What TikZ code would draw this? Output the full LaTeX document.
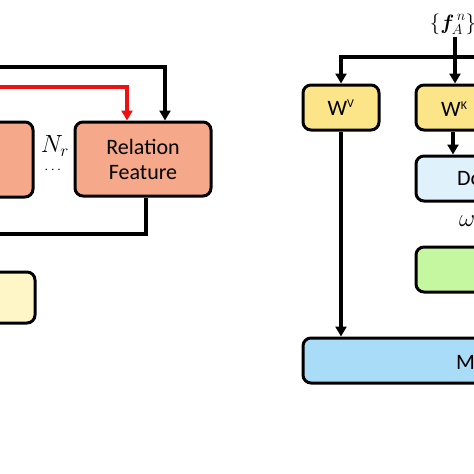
\documentclass[tikz,border=0pt]{standalone}
\usepackage{amsmath}
\usepackage{fontspec}
\setmainfont{Carlito}
\usetikzlibrary{arrows.meta,calc}
\definecolor{salmon}{HTML}{F5A98A}
\definecolor{paleyel}{HTML}{FFF6C8}
\definecolor{wyel}{HTML}{FCE588}
\definecolor{dotblue}{HTML}{DFF2FB}
\definecolor{mgreen}{HTML}{C5F7A0}
\definecolor{mblue}{HTML}{A8DCF7}
\definecolor{redline}{HTML}{EE1111}
\tikzset{
  box/.style={draw=black, line width=3pt, rounded corners=8pt, inner sep=0pt, align=center, font=\fontsize{22}{26}\selectfont},
  conn/.style={line width=3.3pt, draw=black},
  arr/.style={conn, -{Triangle[length=10pt,width=11pt]}},
  lbl/.style={inner sep=0pt, font=\fontsize{22}{26}\selectfont}
}
\begin{document}
\begin{tikzpicture}[x=1pt,y=-1pt]
\useasboundingbox (0,0) rectangle (474,474);
\fill[white] (0,0) rectangle (474,474);
\clip (0,0) rectangle (474,474);
% ---------- left part ----------
\node[box, fill=salmon, minimum width=93pt, minimum height=75pt] (LB) at (-13.5,159.5) {};
\node[box, fill=salmon, minimum width=136pt, minimum height=74pt] (RF) at (143,159) {Relation\\[-1pt]Feature};
\node[box, fill=paleyel, minimum width=95pt, minimum height=51pt] (YB) at (-12.5,297.5) {};
\node[lbl, font=\fontsize{23}{26}\selectfont] (Nr) at (55,146) {$N_r$};
\node[lbl, font=\fontsize{15}{18}\selectfont] (dots) at (54,170) {$\cdots$};
\coordinate (ltop) at (-10,67);
\coordinate (lred) at (-10,87);
\coordinate (lbot) at (-10,234);
\draw[arr] (ltop) -| ([xshift=22pt]RF.north);
\draw[arr, draw=redline, color=redline] (lred) -| ([xshift=-16pt]RF.north);
\draw[conn] ([xshift=3pt]RF.south) |- (lbot);
% ---------- right part ----------
\node[lbl, font=\fontsize{22}{26}\selectfont] (fA) at (453,24) {$\{\boldsymbol{f}_{\!A}^{\,n}\}$};
\node[box, fill=wyel, minimum width=76pt, minimum height=45pt] (WV) at (341,107.5) {W\textsuperscript{\fontsize{12}{13}\selectfont V}};
\node[box, fill=wyel, minimum width=84pt, minimum height=45pt] (WK) at (458,107.5) {};
\node[lbl, anchor=west] (WKt) at (441,109) {W\textsuperscript{\fontsize{12}{13}\selectfont K}};
\node[box, fill=dotblue, minimum width=104pt, minimum height=45pt] (DT) at (468,178.5) {};
\node[lbl, anchor=west] (DTt) at (457,179) {Do};
\node[lbl, anchor=west, font=\fontsize{24}{28}\selectfont] (om) at (459,221) {$\omega$};
\node[box, fill=mgreen, minimum width=104pt, minimum height=45pt] (GR) at (468,269.5) {};
\node[box, fill=mblue, minimum width=217pt, minimum height=45pt] (MB) at (411.5,360.5) {};
\node[lbl, anchor=west] (MBt) at (456,362) {M};
\coordinate (rr) at (490,57);
\draw[arr] ([yshift=-2pt]fA.south -| 455,0) -- (WK.north -| 455,0);
\draw[arr] (rr) -| (WV.north);
\draw[arr] (WK.south -| 453,0) -- (DT.north -| 453,0);
\draw[arr] (WV.south) -- (WV.south |- MB.north);
\end{tikzpicture}
\end{document}
